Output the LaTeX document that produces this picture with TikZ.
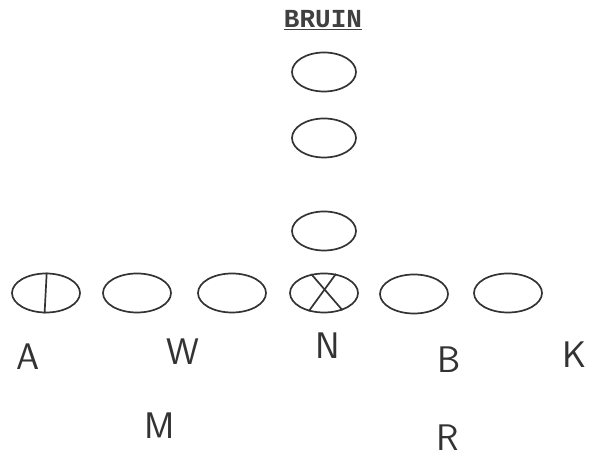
\documentclass[tikz,border=0pt]{standalone}
\usepackage{fontspec}
\setmonofont{Liberation Mono}
\usetikzlibrary{shapes.geometric}
\begin{document}
\begin{tikzpicture}[x=1pt,y=-1pt,
  man/.style={draw=black!80, line width=1.7pt, ellipse, minimum width=68pt, minimum height=39pt, inner sep=0pt},
  stroke/.style={draw=black!80, line width=1.7pt},
  lbl/.style={font=\sffamily\fontsize{37}{37}\selectfont, text=black!80, inner sep=0pt}]
\useasboundingbox (0,0) rectangle (592,462);
\node[font=\ttfamily\bfseries\fontsize{26}{26}\selectfont, text=black!75, inner sep=0pt] (title) at (323,20) {\underline{BRUIN}};
% column
\node[man, minimum width=64pt] (c1) at (324,72) {};
\node[man, minimum width=64pt] (c2) at (324,138) {};
\node[man, minimum width=64pt] (c3) at (324,231) {};
% line
\node[man] (l1) at (46,293) {};
\node[man] (l2) at (137,293) {};
\node[man] (l3) at (232,293) {};
\node[man] (l4) at (324,293) {};
\node[man] (l5) at (414,294) {};
\node[man] (l6) at (508,293) {};
\draw[stroke] (l1.88) -- (l1.-94);
\draw[stroke] (l4.124) -- (l4.-43);
\draw[stroke] (l4.58) -- (l4.-130);
% labels
\node[lbl] (A) at (28,357) {A};
\node[lbl] (W) at (183,352) {W};
\node[lbl] (N) at (328,346) {N};
\node[lbl] (B) at (449,360) {B};
\node[lbl] (K) at (575,355) {K};
\node[lbl] (M) at (160,426) {M};
\node[lbl] (R) at (448,438) {R};
\end{tikzpicture}
\end{document}
